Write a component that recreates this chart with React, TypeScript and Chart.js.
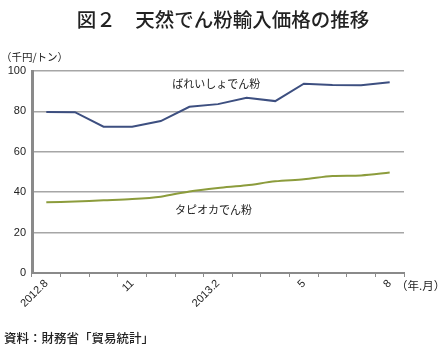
import React, { useEffect, useRef } from "react";
import { Chart, registerables } from "chart.js";

Chart.register(...registerables);

const months = ["2012.8", "9", "10", "11", "12", "2013.1", "2", "3", "4", "5", "6", "7", "8"];
const xTickLabels = ["2012.8", "", "", "11", "", "", "2013.2", "", "", "5", "", "", "8"];
const potatoStarch = [79.7, 79.6, 72.4, 72.4, 75.2, 82.3, 83.6, 86.8, 85.1, 93.7, 93.1, 92.9, 94.4];
const tapiocaStarch = [35.0, 35.4, 36.0, 36.6, 37.8, 40.4, 42.1, 43.4, 45.4, 46.4, 48.0, 48.3, 49.7];
const yTicks = [0, 20, 40, 60, 80, 100];
const seriesNames = ["ばれいしょでん粉", "タピオカでん粉"];

const JP = "'Noto Sans CJK JP', 'Noto Sans', sans-serif";
const LAT = "'Liberation Sans', Arial, sans-serif";

const labelPlugin = {
  id: "seriesLabels",
  afterDatasetsDraw(chart: any) {
    const { ctx, scales } = chart;
    const x = scales.x;
    const y = scales.y;
    ctx.save();
    ctx.fillStyle = "#222";
    ctx.font = `11px ${JP}`;
    ctx.textAlign = "left";
    ctx.textBaseline = "middle";
    ctx.fillText(seriesNames[0], x.getPixelForValue(4.4), y.getPixelForValue(93.6));
    ctx.fillText(seriesNames[1], x.getPixelForValue(4.5), y.getPixelForValue(31.3));
    ctx.restore();
  },
};

export default function App() {
  const ref = useRef<HTMLCanvasElement | null>(null);
  useEffect(() => {
    if (!ref.current) return;
    const chart = new Chart(ref.current, {
      type: "line",
      data: {
        labels: months,
        datasets: [
          {
            label: seriesNames[0],
            data: potatoStarch,
            borderColor: "#3d4f80",
            borderWidth: 2,
            pointRadius: 0,
            tension: 0,
            fill: false,
          },
          {
            label: seriesNames[1],
            data: tapiocaStarch,
            borderColor: "#8c9c3c",
            borderWidth: 2,
            pointRadius: 0,
            tension: 0.3,
            fill: false,
          },
        ],
      },
      options: {
        animation: false,
        responsive: false,
        maintainAspectRatio: false,
        layout: { padding: { top: 71, right: 42, left: 0, bottom: 0 } },
        plugins: { legend: { display: false }, tooltip: { enabled: false }, title: { display: false } },
        scales: {
          x: {
            type: "category",
            offset: true,
            afterFit: (s: any) => {
              s.height = 80;
            },
            grid: {
              offset: true,
              drawOnChartArea: false,
              drawTicks: true,
              tickLength: 4,
              color: "#8a8a8a",
              lineWidth: 1,
            },
            border: { color: "#8a8a8a", width: 2 },
            ticks: {
              autoSkip: false,
              minRotation: 45,
              maxRotation: 45,
              color: "#222",
              font: { family: LAT, size: 11 },
              padding: 0,
              callback: (_v: any, i: number) => xTickLabels[i],
            },
          },
          y: {
            min: 0,
            max: 100,
            afterFit: (s: any) => {
              s.width = 32;
            },
            afterBuildTicks: (s: any) => {
              s.ticks = yTicks.map((v) => ({ value: v }));
            },
            grid: {
              color: "#a6a6a6",
              lineWidth: 1.5,
              drawTicks: false,
            },
            border: { color: "#8a8a8a", width: 3 },
            ticks: {
              color: "#222",
              font: { family: LAT, size: 11 },
              padding: 6,
            },
          },
        },
      },
      plugins: [labelPlugin],
    } as any);
    return () => chart.destroy();
  }, []);

  return (
    <div style={{ position: "fixed", left: 0, top: 0, width: 446, height: 353, background: "#fff", overflow: "hidden" }}>
      <canvas ref={ref} width={446} height={353} style={{ position: "absolute", left: 0, top: 0, width: 446, height: 353 }} />
      <div style={{ position: "absolute", left: 0, top: 6, width: 446, textAlign: "center", fontFamily: JP, fontSize: 19.5, fontWeight: 500, color: "#222", lineHeight: "26px" }}>
        図２　天然でん粉輸入価格の推移
      </div>
      <div style={{ position: "absolute", left: 1, top: 49, fontFamily: JP, fontSize: 10.5, color: "#222", lineHeight: "16px" }}>
        （千円/トン）
      </div>
      <div style={{ position: "absolute", left: 396, top: 277, fontFamily: JP, fontSize: 11.5, color: "#222", lineHeight: "16px" }}>
        （年.月）
      </div>
      <div style={{ position: "absolute", left: 4, top: 329, fontFamily: JP, fontSize: 12.5, fontWeight: 500, color: "#222", lineHeight: "18px" }}>
        資料：財務省「貿易統計」
      </div>
    </div>
  );
}
